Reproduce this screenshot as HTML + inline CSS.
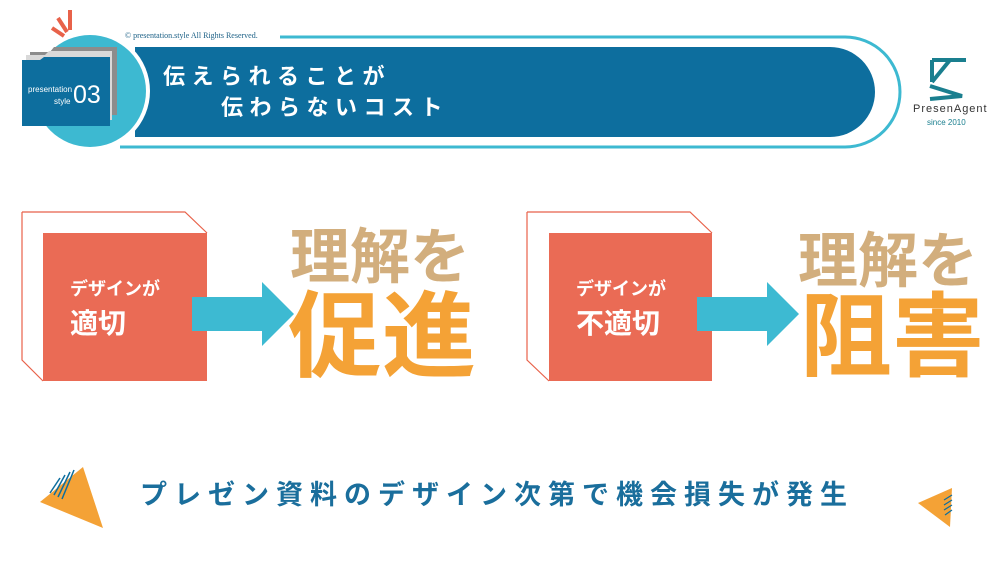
<!DOCTYPE html>
<html><head><meta charset="utf-8"><style>
html,body{margin:0;padding:0;background:#fff;}
body{width:1000px;height:563px;position:relative;overflow:hidden;font-family:"Liberation Sans","Noto Sans CJK JP",sans-serif;}
.t{position:absolute;white-space:nowrap;line-height:1;font-weight:bold;}
</style></head><body>
<svg width="1000" height="563" style="position:absolute;left:0;top:0">
  <path d="M280 37 H845 A55 55 0 0 1 845 147 H120" fill="none" stroke="#3db9d1" stroke-width="3"/>
  <path d="M135 47 H830 A45 45 0 0 1 830 137 H135 Z" fill="#0d6e9e"/>
  <circle cx="90" cy="91" r="60" fill="#fff"/>
  <circle cx="90" cy="91" r="56" fill="#3db9d1"/>
  <path d="M52 28 L64 36 M58 18 L67 32 M70 10 L70 30" stroke="#e8624a" stroke-width="4"/>
  <path d="M30 52 H50 L54 47 H117 V115 H30 Z" fill="#8c8c8c"/>
  <path d="M26 55 H45 L49 51 H112 V120 H26 Z" fill="#d9d9d9"/>
  <path d="M22 60 H40 L44 57 H110 V126 H22 Z" fill="#0d6e9e"/>
  <g stroke="#1a7f8f" stroke-width="4" fill="none">
    <path d="M932 60 V82 M932 60 L950 60 M966 60 H950 L932 82 M930 86 L962 96 L930 99"/>
  </g>
  <path d="M22 212 H185 L207 233 M22 212 V360 L43 381" fill="none" stroke="#e8624a" stroke-width="1.2"/>
  <rect x="43" y="233" width="164" height="148" fill="#ea6b55"/>
  <rect x="192" y="297" width="72" height="34" fill="#3dbad2"/>
  <path d="M262 282 L294 314 L262 346 Z" fill="#3dbad2"/>
  <path d="M527 212 H690 L712 233 M527 212 V360 L549 381" fill="none" stroke="#e8624a" stroke-width="1.2"/>
  <rect x="549" y="233" width="163" height="148" fill="#ea6b55"/>
  <rect x="697" y="297" width="72" height="34" fill="#3dbad2"/>
  <path d="M767 282 L799 314 L767 346 Z" fill="#3dbad2"/>
  <path d="M83 467 L40 502 L103 528 Z" fill="#f4a236"/>
  <g stroke="#0d6e9e" stroke-width="1.5">
    <path d="M50 493 L60 478 M54 495 L65 475 M58 497 L70 472 M62 499 L74 470"/>
  </g>
  <path d="M952 488 L918 503 L950 527 Z" fill="#f4a236"/>
  <g stroke="#0d6e9e" stroke-width="1.2">
    <path d="M944 500 L952 495 M944 505 L952 500 M944 510 L952 505 M945 515 L952 510"/>
  </g>
</svg>
<div class="t" style="left:125px;top:32px;font-size:8px;font-weight:normal;color:#1a5f85;font-family:'Liberation Serif',serif;">© presentation.style All Rights Reserved.</div>
<div class="t" style="left:28px;top:86px;font-size:8px;font-weight:normal;color:#fff;">presentation</div>
<div class="t" style="left:54px;top:98px;font-size:8px;font-weight:normal;color:#fff;">style</div>
<div class="t" style="left:73px;top:83px;font-size:25px;font-weight:normal;color:#fff;">03</div>
<div class="t" style="left:163px;top:66px;font-size:22px;color:#fff;letter-spacing:6.5px;">伝えられることが</div>
<div class="t" style="left:221px;top:97px;font-size:22px;color:#fff;letter-spacing:6.5px;">伝わらないコスト</div>
<div class="t" style="left:913px;top:104px;font-size:11px;font-weight:normal;color:#333;letter-spacing:1px;">PresenAgent</div>
<div class="t" style="left:927px;top:119px;font-size:8px;font-weight:normal;color:#1a7f8f;">since 2010</div>
<div class="t" style="left:70px;top:280px;font-size:18px;color:#fff;">デザインが</div>
<div class="t" style="left:70px;top:310px;font-size:28px;color:#fff;">適切</div>
<div class="t" style="left:576px;top:280px;font-size:18px;color:#fff;">デザインが</div>
<div class="t" style="left:576px;top:310px;font-size:28px;color:#fff;">不適切</div>
<div class="t" style="left:290px;top:228px;font-size:60px;color:#d2ae7d;">理解を</div>
<div class="t" style="left:288px;top:290px;font-size:94px;color:#f4a236;">促進</div>
<div class="t" style="left:798px;top:232px;font-size:60px;color:#d2ae7d;">理解を</div>
<div class="t" style="left:800px;top:292px;font-size:92px;color:#f4a236;">阻害</div>
<div class="t" style="left:140px;top:482px;font-size:27px;color:#1a6e9c;letter-spacing:7px;">プレゼン資料のデザイン次第で機会損失が発生</div>
</body></html>
